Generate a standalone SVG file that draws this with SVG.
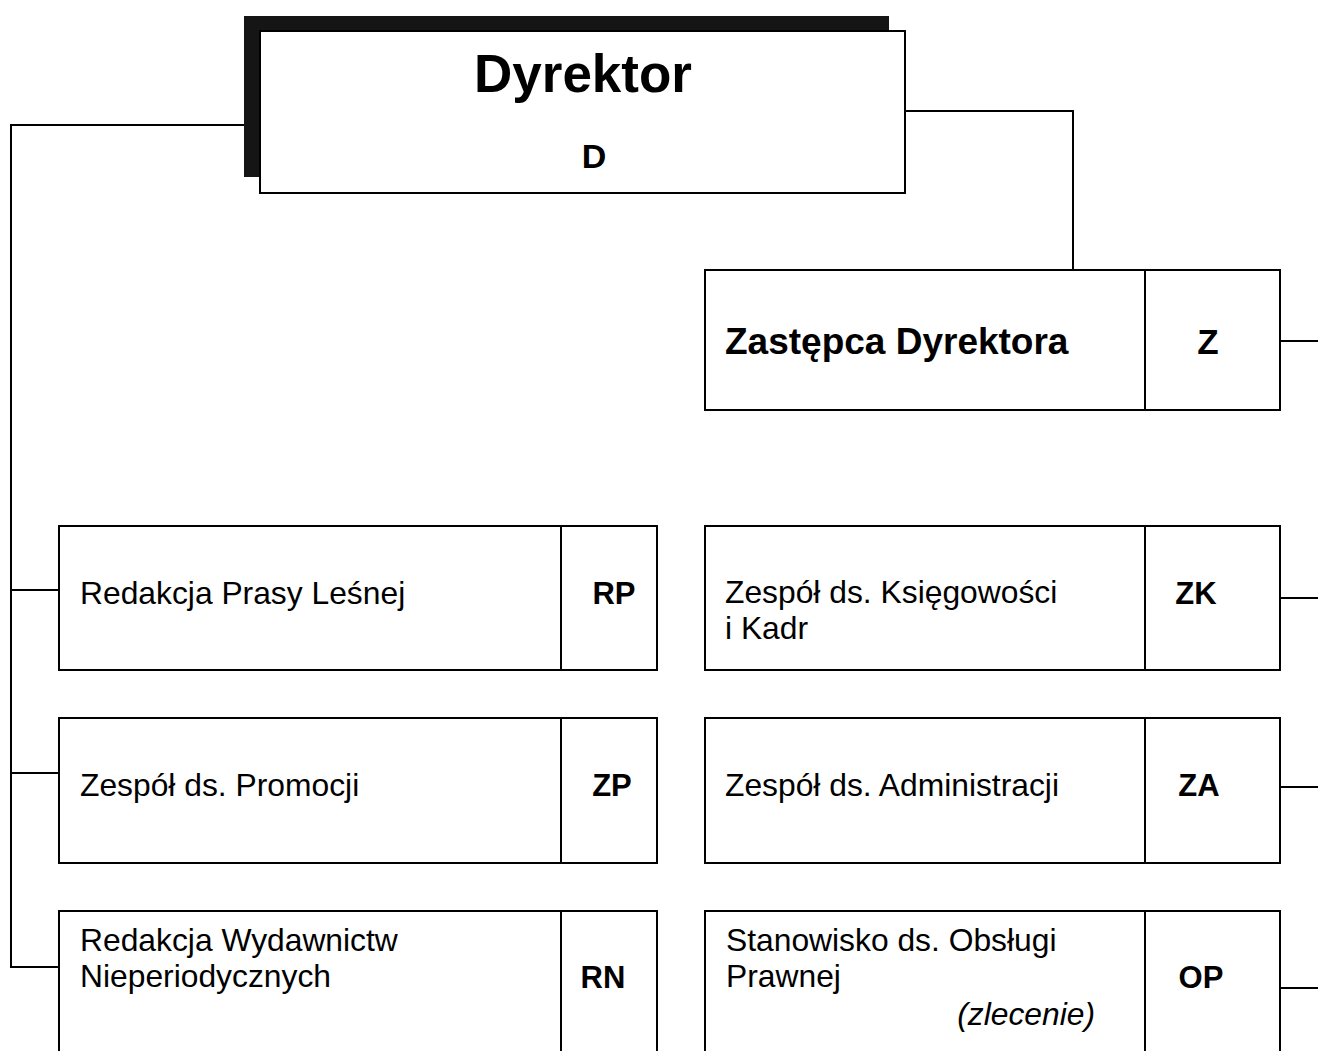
<svg xmlns="http://www.w3.org/2000/svg" width="1318" height="1051" viewBox="0 0 1318 1051">
<style>
.box{fill:#fff;stroke:#000;stroke-width:2}
.ln{fill:none;stroke:#000;stroke-width:2}
text{font-family:"Liberation Sans",Arial,sans-serif;fill:#000}
.t{font-size:31.8px}
.b{font-weight:bold;font-size:31px}
.c{text-anchor:middle}
</style>
<rect width="1318" height="1051" fill="#fff"/>
<g id="connectors">
<polyline class="ln" points="244,125 11,125 11,967 59,967"/>
<line class="ln" x1="11" y1="590" x2="59" y2="590"/>
<line class="ln" x1="11" y1="773" x2="59" y2="773"/>
<polyline class="ln" points="905,111 1073,111 1073,270"/>
<line class="ln" x1="1280" y1="341" x2="1318" y2="341"/>
<line class="ln" x1="1280" y1="598" x2="1318" y2="598"/>
<line class="ln" x1="1280" y1="787" x2="1318" y2="787"/>
<line class="ln" x1="1280" y1="988" x2="1318" y2="988"/>
</g>
<g id="D">
<rect x="244" y="16" width="645" height="161" fill="#151515"/>
<rect class="box" x="260" y="31" width="645" height="162"/>
<text class="b c" x="583" y="92" style="font-size:53px">Dyrektor</text>
<text class="b c" x="594" y="168" style="font-size:34px">D</text>
</g>
<g id="Z">
<rect class="box" x="705" y="270" width="575" height="140"/>
<line class="ln" x1="1145" y1="270" x2="1145" y2="410"/>
<text class="b" x="725" y="354" style="font-size:37px">Zastępca Dyrektora</text>
<text class="b c" x="1208" y="354" style="font-size:35px">Z</text>
</g>
<g id="RP">
<rect class="box" x="59" y="526" width="598" height="144"/>
<line class="ln" x1="561" y1="526" x2="561" y2="670"/>
<text class="t" x="80" y="604">Redakcja Prasy Leśnej</text>
<text class="b c" x="614" y="604">RP</text>
</g>
<g id="ZP">
<rect class="box" x="59" y="718" width="598" height="145"/>
<line class="ln" x1="561" y1="718" x2="561" y2="863"/>
<text class="t" x="80" y="796">Zespół ds. Promocji</text>
<text class="b c" x="612" y="796">ZP</text>
</g>
<g id="RN">
<rect class="box" x="59" y="911" width="598" height="150"/>
<line class="ln" x1="561" y1="911" x2="561" y2="1061"/>
<text class="t" x="80" y="951">Redakcja Wydawnictw</text>
<text class="t" x="80" y="987">Nieperiodycznych</text>
<text class="b c" x="603" y="988">RN</text>
</g>
<g id="ZK">
<rect class="box" x="705" y="526" width="575" height="144"/>
<line class="ln" x1="1145" y1="526" x2="1145" y2="670"/>
<text class="t" x="725" y="603">Zespół ds. Księgowości</text>
<text class="t" x="725" y="639">i Kadr</text>
<text class="b c" x="1196" y="604">ZK</text>
</g>
<g id="ZA">
<rect class="box" x="705" y="718" width="575" height="145"/>
<line class="ln" x1="1145" y1="718" x2="1145" y2="863"/>
<text class="t" x="725" y="796">Zespół ds. Administracji</text>
<text class="b c" x="1199" y="796">ZA</text>
</g>
<g id="OP">
<rect class="box" x="705" y="911" width="575" height="150"/>
<line class="ln" x1="1145" y1="911" x2="1145" y2="1061"/>
<text class="t" x="726" y="951">Stanowisko ds. Obsługi</text>
<text class="t" x="726" y="987">Prawnej</text>
<text class="t" x="1095" y="1025" text-anchor="end" font-style="italic">(zlecenie)</text>
<text class="b c" x="1201" y="988">OP</text>
</g>
</svg>
